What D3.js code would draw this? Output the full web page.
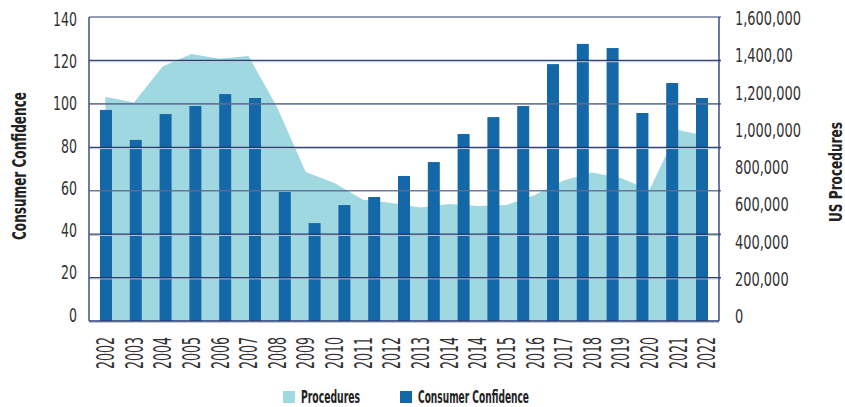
<!DOCTYPE html>
<html>
<head>
<meta charset="utf-8">
<script src="https://cdn.jsdelivr.net/npm/d3@7"></script>
<style>
  body { margin: 0; background: #fff; }
  svg { display: block; }
  text { font-family: 'Liberation Sans Narrow', 'DejaVu Sans Condensed', 'Roboto', sans-serif; fill: #333; }
</style>
</head>
<body>
<div id="chart"></div>
<script>
// year labels on the axis (the source repeats 2014)
var yearLabels = ['2002', '2003', '2004', '2005', '2006', '2007', '2008', '2009', '2010', '2011', '2012',
                  '2013', '2014', '2014', '2015', '2016', '2017', '2018', '2019', '2020', '2021', '2022'];
// consumer confidence bars (21 bars)
var confidence = [97.2, 83.4, 95.3, 99.0, 104.5, 102.7, 59.4, 45.1, 53.4, 57.1, 66.8,
                  73.2, 86.1, 93.9, 99.0, 118.3, 127.6, 125.7, 95.8, 109.6, 102.7];
// US procedures area (22 points)
var procedures = [1180000, 1150000, 1340000, 1405000, 1380000, 1395000, 1125000, 784000, 726000, 638000, 621000,
                  597000, 616000, 605000, 610000, 663000, 739000, 781000, 753000, 689000, 1005000, 974000];
var leftTicks = [0, 20, 40, 60, 80, 100, 120, 140];
var rightTicks = [0, 200000, 400000, 600000, 800000, 1000000, 1200000, 1400000, 1600000];
var rightTickLabels = ['0', '200,000', '400,000', '600,000', '800,000', '1,000,000', '1,200,000', '1,400,00', '1,600,000'];

var W = 845, H = 407,
    pL = 89, pR = 719, pT = 17, pB = 321;

var svg = d3.select('#chart').append('svg').attr('width', W).attr('height', H);

var xBar = d3.scalePoint().domain(d3.range(confidence.length)).range([pL, pR]).padding(0.57);
var xLab = d3.scalePoint().domain(d3.range(yearLabels.length)).range([pL + 2, pR + 2]).padding(0.5);
var yL = d3.scaleLinear().domain([0, 140]).range([pB, pT]);
var yR = d3.scaleLinear().domain([0, 1600000]).range([pB, pT]);
// the tick labels sit a little inside the gridlines in the source
var yLLab = d3.scaleLinear().domain([0, 140]).range([pB - 6, pT + 2]);
var yRLab = d3.scaleLinear().domain([0, 1600000]).range([pB - 5, pT + 1]);

// squeeze a group of labels so a reference string gets a target width
function condense(sel, k) {
  sel.each(function() {
    var n = this.getComputedTextLength();
    d3.select(this).attr('textLength', n * k).attr('lengthAdjust', 'spacingAndGlyphs');
  });
}
function factor(str, size, weight, target) {
  var t = svg.append('text').style('font-size', size + 'px').style('font-weight', weight).text(str);
  var n = t.node().getComputedTextLength();
  t.remove();
  return target / n;
}

// area
var area = d3.area()
  .x(function(d, i) { return xLab(i); })
  .y0(pB)
  .y1(function(d) { return yR(d); });
svg.append('path').datum(procedures).attr('d', area).attr('fill', '#9fd8e1');

// bars
var bw = 12;
svg.selectAll('rect.bar')
  .data(confidence)
  .enter().append('rect')
  .attr('class', 'bar')
  .attr('x', function(d, i) { return xBar(i) - bw / 2; })
  .attr('y', function(d) { return yL(d); })
  .attr('width', bw)
  .attr('height', function(d) { return pB - yL(d); })
  .attr('fill', '#1468a8');

// gridlines
leftTicks.filter(function(d) { return d > 0; }).forEach(function(d) {
  var y = yL(d);
  var grey = (d === 140 || d === 100 || d === 60);
  if (!grey) {
    svg.append('line').attr('x1', pL).attr('x2', pR + 2).attr('y1', y + 1.3).attr('y2', y + 1.3)
      .attr('stroke', '#b9c3d6').attr('stroke-width', 1);
  }
  svg.append('line').attr('x1', pL).attr('x2', pR + 2).attr('y1', y).attr('y2', y)
    .attr('stroke', grey ? '#5d6d92' : '#1f3166')
    .attr('stroke-opacity', 0.9)
    .attr('stroke-width', grey ? 1.6 : 1.3);
});

// axis frame
svg.append('line').attr('x1', pL).attr('x2', pR).attr('y1', pB + 1.3).attr('y2', pB + 1.3)
  .attr('stroke', '#c3c9d8').attr('stroke-width', 1.2);
svg.append('line').attr('x1', pL).attr('x2', pR).attr('y1', pB).attr('y2', pB)
  .attr('stroke', '#2c3d72').attr('stroke-width', 1.4);
svg.append('line').attr('x1', pL).attr('x2', pL).attr('y1', pT).attr('y2', pB)
  .attr('stroke', '#485a86').attr('stroke-width', 1.6);
svg.append('line').attr('x1', pR).attr('x2', pR).attr('y1', pT).attr('y2', pB)
  .attr('stroke', '#2c3d72').attr('stroke-width', 1.4);

// left tick labels
var lt = svg.selectAll('text.lt').data(leftTicks).enter().append('text')
  .attr('class', 'lt')
  .attr('x', 77)
  .attr('y', function(d) { return yLLab(d); })
  .attr('dy', '0.35em')
  .attr('text-anchor', 'end')
  .style('font-size', '19px')
  .text(function(d) { return d; });
condense(lt, factor('140', 19, 'normal', 24));

// right tick labels
var rt = svg.selectAll('text.rt').data(rightTicks).enter().append('text')
  .attr('class', 'rt')
  .attr('x', 735)
  .attr('y', function(d) { return yRLab(d); })
  .attr('dy', '0.35em')
  .style('font-size', '20px')
  .text(function(d, i) { return rightTickLabels[i]; });
condense(rt, factor('1,600,000', 20, 'normal', 66));

// x labels
var xl = svg.selectAll('text.xl').data(yearLabels).enter().append('text')
  .attr('class', 'xl')
  .attr('transform', function(d, i) { return 'translate(' + xLab(i) + ',337) rotate(-90)'; })
  .attr('dy', '0.36em')
  .attr('text-anchor', 'end')
  .style('font-size', '24px')
  .text(function(d) { return d; });
condense(xl, factor('2002', 24, 'normal', 32));

// axis titles
var tl = svg.append('text')
  .attr('transform', 'translate(19,166) rotate(-90)')
  .attr('dy', '0.36em')
  .attr('text-anchor', 'middle')
  .style('font-size', '19px').style('font-weight', 'bold').style('fill', '#222')
  .text('Consumer Confidence');
condense(tl, factor('Consumer Confidence', 19, 'bold', 148));

var tr = svg.append('text')
  .attr('transform', 'translate(836,172) rotate(-90)')
  .attr('dy', '0.36em')
  .attr('text-anchor', 'middle')
  .style('font-size', '18px').style('font-weight', 'bold').style('fill', '#222')
  .text('US Procedures');
condense(tr, factor('US Procedures', 18, 'bold', 100));

// legend
var legend = [
  { name: 'Procedures', color: '#9fd8e1', x: 283, w: 59 },
  { name: 'Consumer Confidence', color: '#1468a8', x: 400, w: 111 }
];
legend.forEach(function(l) {
  svg.append('rect').attr('x', l.x).attr('y', 391).attr('width', 12).attr('height', 12).attr('fill', l.color);
  var t = svg.append('text').attr('x', l.x + 18).attr('y', 397).attr('dy', '0.36em')
    .style('font-size', '17px').style('font-weight', 'bold').style('fill', '#222')
    .text(l.name);
  condense(t, factor(l.name, 17, 'bold', l.w));
});
</script>
</body>
</html>
